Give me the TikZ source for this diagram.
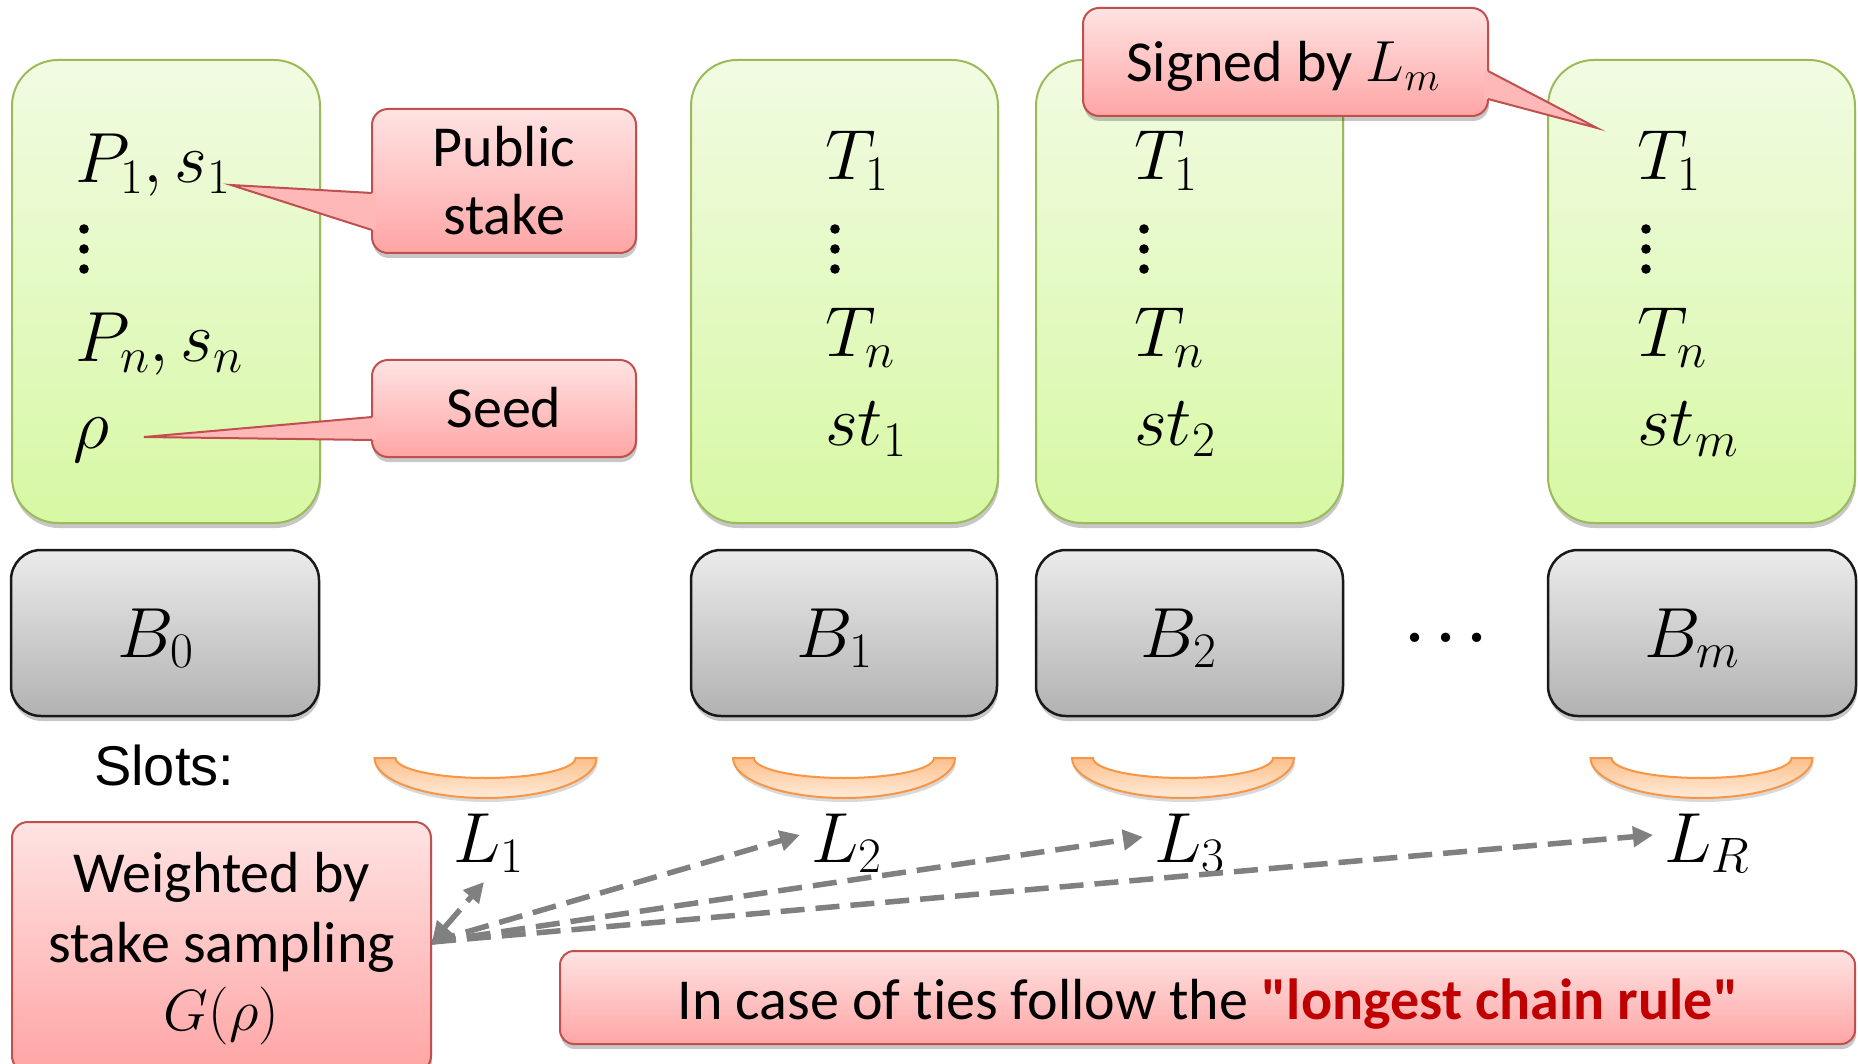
\RequirePackage{fix-cm}
\documentclass[tikz,border=0pt]{standalone}
\usepackage[no-math]{fontspec}
\setmainfont{Carlito}[Ligatures={TeXOff,NoCommon}]
\newfontfamily\slotsfont{Liberation Sans}
\usetikzlibrary{arrows.meta,shadows}

\definecolor{grnTop}{HTML}{F1FBE2}
\definecolor{grnBot}{HTML}{D7F8A4}
\definecolor{grnLine}{HTML}{9BBB59}
\definecolor{gryTop}{HTML}{EBEBEB}
\definecolor{gryBot}{HTML}{B2B2B2}
\definecolor{redTop}{HTML}{FFE3E3}
\definecolor{redBot}{HTML}{FFA5A5}
\definecolor{redLine}{HTML}{C0504D}
\definecolor{redPtr}{HTML}{FFB8B8}
\definecolor{orgTop}{HTML}{FDC08C}
\definecolor{orgBot}{HTML}{FFEBDA}
\definecolor{orgLine}{HTML}{F79646}
\definecolor{ruleRed}{HTML}{C00000}
\definecolor{arrowGray}{HTML}{808080}

\tikzset{
  softshadow/.style={drop shadow={shadow xshift=1pt,shadow yshift=-5pt,opacity=0.22,fill=black}},
  greenbox/.style={draw=grnLine,line width=2pt,rounded corners=46pt,
    top color=grnTop,bottom color=grnBot,softshadow},
  graybox/.style={draw=black!90,line width=2.5pt,rounded corners=30pt,
    top color=gryTop,bottom color=gryBot,softshadow},
  callbox/.style={draw=redLine,line width=2pt,rounded corners=16pt,
    top color=redTop,bottom color=redBot,softshadow},
  ptrfill/.style={fill=redPtr},
  ptrline/.style={draw=redLine,line width=2pt,line join=miter},
  mathlbl/.style={font=\fontsize{71}{85}\selectfont,inner sep=0pt,anchor=base west},
  txt/.style={font=\fontsize{58}{70}\selectfont,inner sep=0pt,anchor=base},
  slotstyle/.style={draw=orgLine,line width=2pt,top color=orgTop,bottom color=orgBot,
    drop shadow={shadow xshift=1pt,shadow yshift=-4pt,opacity=0.15,fill=black}},
  slotarc/.pic={
    \path[slotstyle] (-111,0) arc[start angle=180,end angle=0,x radius=111,y radius=40]
      -- (90,0) arc[start angle=0,end angle=180,x radius=90,y radius=20] -- cycle;
  },
  dasharrow/.style={draw=arrowGray,line width=5.5pt,dash pattern=on 24pt off 11pt,
    -{Triangle[length=20pt,width=20pt]}},
  dasharrowboth/.style={dasharrow,{Triangle[length=20pt,width=20pt]}-{Triangle[length=20pt,width=20pt]}},
}

\begin{document}
\begin{tikzpicture}[x=1pt,y=-1pt]
\useasboundingbox (0,0) rectangle (1858,1064);
\fill[white] (0,0) rectangle (1858,1064);

% block contents
\node[greenbox,minimum width=308pt,minimum height=463pt] (g0) at (166,291.5) {};
\node[greenbox,minimum width=307pt,minimum height=463pt] (g1) at (844.5,291.5) {};
\node[greenbox,minimum width=307pt,minimum height=463pt] (g2) at (1189.5,291.5) {};
\node[greenbox,minimum width=307pt,minimum height=463pt] (gm) at (1701.5,291.5) {};

% genesis block data
\node[mathlbl] (p1) at (75,183) {$P_1, s_1$};
\foreach \yy in {229,249,269} \fill (84,\yy) circle[radius=4.8pt];
\node[mathlbl] (pn) at (75,362) {$P_n, s_n$};
\node[mathlbl] (rho) at (73,448) {$\rho$};

% transactions and signatures
\node[mathlbl] (t11) at (825,180) {$T_1$};
\foreach \yy in {229,249,269} \fill (835,\yy) circle[radius=4.8pt];
\node[mathlbl] (t1n) at (825,357) {$T_n$};
\node[mathlbl] (st1) at (825,446) {$st_1$};

\node[mathlbl] (t21) at (1134,180) {$T_1$};
\foreach \yy in {229,249,269} \fill (1144,\yy) circle[radius=4.8pt];
\node[mathlbl] (t2n) at (1134,357) {$T_n$};
\node[mathlbl] (st2) at (1134,446) {$st_2$};

\node[mathlbl] (tm1) at (1637,180) {$T_1$};
\foreach \yy in {229,249,269} \fill (1646,\yy) circle[radius=4.8pt];
\node[mathlbl] (tmn) at (1637,357) {$T_n$};
\node[mathlbl] (stm) at (1637,446) {$st_m$};

% block headers
\node[graybox,minimum width=308pt,minimum height=166pt] (b0) at (165,633) {};
\node[graybox,minimum width=306pt,minimum height=166pt] (b1) at (844,633) {};
\node[graybox,minimum width=307pt,minimum height=166pt] (b2) at (1189.5,633) {};
\node[graybox,minimum width=308pt,minimum height=166pt] (bm) at (1702,633) {};
\node[mathlbl,anchor=base] (b0t) at (156,657) {$B_0$};
\node[mathlbl,anchor=base] (b1t) at (835,657) {$B_1$};
\node[mathlbl,anchor=base] (b2t) at (1179,657) {$B_2$};
\node[mathlbl,anchor=base] (bmt) at (1692,657) {$B_m$};
\node[font=\fontsize{60}{70}\selectfont\boldmath,inner sep=0pt,anchor=base] (ell) at (1446,642) {$\ldots$};

% callout: public stake
\node[callbox,minimum width=264pt,minimum height=144pt] (pub) at (504,181) {};
\fill[ptrfill] (376,193) -- (372,193) -- (231,185) -- (372,230) -- (376,230) -- cycle;
\draw[ptrline] (372,193) -- (231,185) -- (372,230);
\node[txt] (pubA) at (504,167) {Public};
\node[txt] (pubB) at (504,235) {stake};

% callout: seed
\node[callbox,minimum width=264pt,minimum height=97pt] (seed) at (504,408.5) {};
\fill[ptrfill] (376,417) -- (372,417) -- (144,437) -- (372,440) -- (376,440) -- cycle;
\draw[ptrline] (372,417) -- (144,437) -- (372,440);
\node[txt] (seedt) at (504,428) {Seed};

% callout: signer
\node[callbox,minimum width=405pt,minimum height=108pt] (sig) at (1285.5,62) {};
\fill[ptrfill] (1484,71) -- (1488,71) -- (1597,128) -- (1488,99) -- (1484,99) -- cycle;
\draw[ptrline] (1488,71) -- (1597,128) -- (1488,99);
\node[txt,anchor=base west] (sigt) at (1126,82) {Signed by $L_m$};

% slots
\node[font=\slotsfont\fontsize{56}{67}\selectfont,inner sep=0pt,anchor=base west] (slots) at (94,785) {Slots:};
\pic (s1) at (485.5,758) {slotarc};
\pic (s2) at (844,758) {slotarc};
\pic (s3) at (1183,758) {slotarc};
\pic (sR) at (1701.5,758) {slotarc};
\node[mathlbl] (l1) at (453,862) {$L_1$};
\node[mathlbl] (l2) at (811,862) {$L_2$};
\node[mathlbl] (l3) at (1154,862) {$L_3$};
\node[mathlbl] (lR) at (1664,862) {$L_R$};

% leader selection
\node[callbox,minimum width=419pt,minimum height=250pt] (w) at (221.5,947) {};
\node[txt] (wa) at (221.5,892) {Weighted by};
\node[txt] (wb) at (221.5,962) {stake sampling};
\node[txt] (wc) at (221.5,1030) {$G(\rho)$};

% tie-breaking rule
\node[callbox,rounded corners=14pt,minimum width=1295pt,minimum height=93pt] (rule) at (1207.5,997.5) {};
\node[txt] (rulet) at (1208,1019) {In case of ties follow the \textcolor{ruleRed}{\textbf{"longest chain rule"}}};

% sampling arrows
\coordinate (src) at (432,942);
\coordinate (t1) at (484,882);
\coordinate (t2) at (800,835);
\coordinate (t3) at (1143,837);
\coordinate (tR) at (1653,835);
\draw[dasharrow] (src) -- (tR);
\draw[dasharrow] (src) -- (t3);
\draw[dasharrow] (src) -- (t2);
\draw[dasharrowboth] (src) -- (t1);
\end{tikzpicture}
\end{document}
